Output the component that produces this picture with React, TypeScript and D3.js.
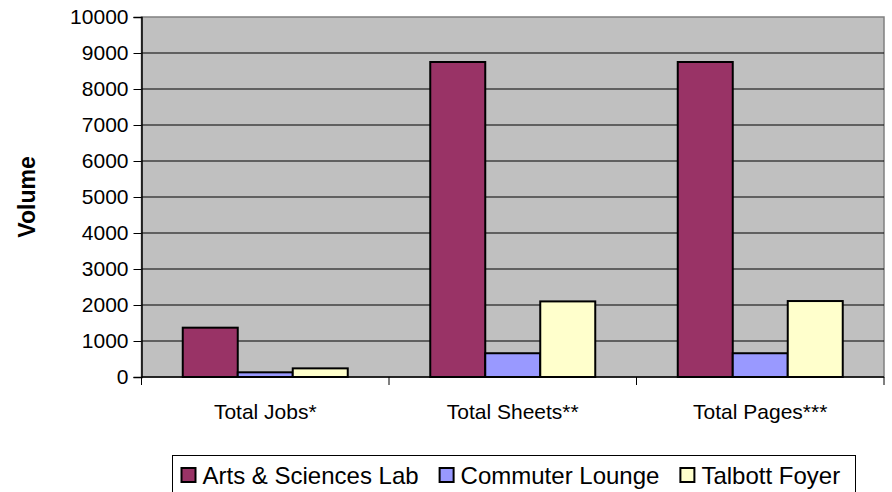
import React, { useEffect, useRef } from 'react';
import * as d3 from 'd3';

const categories = ['Total Jobs*', 'Total Sheets**', 'Total Pages***'];
const seriesNames = ['Arts & Sciences Lab', 'Commuter Lounge', 'Talbott Foyer'];
const artsValues = [1370, 8750, 8750];
const commuterValues = [130, 660, 660];
const talbottValues = [240, 2100, 2110];
const yTicks = [0, 1000, 2000, 3000, 4000, 5000, 6000, 7000, 8000, 9000, 10000];
const seriesColors = ['#993366', '#9999FF', '#FFFFCC'];

export default function App() {
  const svgRef = useRef<SVGSVGElement | null>(null);

  useEffect(() => {
    if (!svgRef.current) return;
    const svg = d3.select(svgRef.current);
    svg.selectAll('*').remove();

    const width = 892;
    const height = 492;
    const margin = { top: 17, right: 8, bottom: 115, left: 141.5 };
    const font = '"Liberation Sans", Arial, sans-serif';

    const values = [artsValues, commuterValues, talbottValues];
    const rows = categories.map((c, i) => ({
      category: c,
      bars: seriesNames.map((s, j) => ({ series: s, value: values[j][i] })),
    }));

    const x0 = d3.scaleBand<string>()
      .domain(categories)
      .range([margin.left, width - margin.right])
      .paddingInner(0)
      .paddingOuter(0);

    const x1 = d3.scaleBand<string>()
      .domain(seriesNames)
      .range([0, x0.bandwidth()])
      .paddingInner(0)
      .paddingOuter(0.75);

    const y = d3.scaleLinear()
      .domain([0, 10000])
      .range([height - margin.bottom, margin.top]);

    const color = d3.scaleOrdinal<string, string>().domain(seriesNames).range(seriesColors);

    // Plot area background
    svg.append('rect')
      .attr('x', margin.left)
      .attr('y', margin.top)
      .attr('width', width - margin.right - margin.left)
      .attr('height', y(0) - margin.top)
      .attr('fill', '#C0C0C0')
      .attr('stroke', '#808080')
      .attr('stroke-width', 1.5);

    // Gridlines
    svg.append('g')
      .selectAll('line')
      .data(yTicks.slice(1, -1))
      .join('line')
      .attr('x1', margin.left)
      .attr('x2', width - margin.right)
      .attr('y1', d => y(d))
      .attr('y2', d => y(d))
      .attr('stroke', '#000')
      .attr('stroke-width', 1);

    // Y axis
    const yAxis = svg.append('g')
      .attr('transform', `translate(${margin.left},0)`)
      .call(d3.axisLeft(y).tickValues(yTicks).tickSize(8).tickPadding(5).tickFormat(d => String(d)));
    yAxis.select('.domain').attr('stroke', '#000').attr('stroke-width', 1.5);
    yAxis.selectAll('.tick line').attr('stroke', '#000');
    yAxis.selectAll('text')
      .attr('font-family', font)
      .attr('font-size', 21)
      .attr('fill', '#000');

    // Bars
    svg.append('g')
      .selectAll('g')
      .data(rows)
      .join('g')
      .attr('transform', d => `translate(${x0(d.category)},0)`)
      .selectAll('rect')
      .data(d => d.bars)
      .join('rect')
      .attr('x', d => x1(d.series)!)
      .attr('width', x1.bandwidth())
      .attr('y', d => y(d.value))
      .attr('height', d => y(0) - y(d.value))
      .attr('fill', d => color(d.series))
      .attr('stroke', '#000')
      .attr('stroke-width', 2);

    // X axis
    const xTicks = [margin.left, ...categories.map(c => x0(c)! + x0.bandwidth())];
    svg.append('line')
      .attr('x1', margin.left)
      .attr('x2', width - margin.right)
      .attr('y1', y(0))
      .attr('y2', y(0))
      .attr('stroke', '#000')
      .attr('stroke-width', 1.5);
    svg.append('g')
      .selectAll('line')
      .data(xTicks)
      .join('line')
      .attr('x1', d => d)
      .attr('x2', d => d)
      .attr('y1', y(0))
      .attr('y2', y(0) + 8)
      .attr('stroke', '#000');
    svg.append('g')
      .selectAll('text')
      .data(categories)
      .join('text')
      .attr('x', d => x0(d)! + x0.bandwidth() / 2)
      .attr('y', y(0) + 42)
      .attr('text-anchor', 'middle')
      .attr('font-family', font)
      .attr('font-size', 21)
      .text(d => d);

    // Y title
    svg.append('text')
      .attr('transform', `translate(35,197) rotate(-90)`)
      .attr('text-anchor', 'middle')
      .attr('font-family', font)
      .attr('font-size', 23)
      .attr('font-weight', 'bold')
      .text('Volume');

    // Legend
    const legendX = 172.5;
    const legendY = 455.5;
    const legendG = svg.append('g');
    legendG.append('rect')
      .attr('x', legendX)
      .attr('y', legendY)
      .attr('width', 683)
      .attr('height', 45)
      .attr('fill', '#fff')
      .attr('stroke', '#000')
      .attr('stroke-width', 1);

    let cursor = legendX + 8;
    seriesNames.forEach(name => {
      const item = legendG.append('g').attr('transform', `translate(${cursor},0)`);
      item.append('rect')
        .attr('x', 1)
        .attr('y', 468)
        .attr('width', 14)
        .attr('height', 14)
        .attr('fill', color(name))
        .attr('stroke', '#000')
        .attr('stroke-width', 2);
      const t = item.append('text')
        .attr('x', 22)
        .attr('y', 483.5)
        .attr('font-family', font)
        .attr('font-size', 24)
        .text(name);
      const w = (t.node() as SVGTextElement).getComputedTextLength();
      cursor += 22 + w + 20;
    });
  }, []);

  return (
    <svg
      ref={svgRef}
      width={892}
      height={492}
      style={{ position: 'absolute', left: 0, top: 0, background: '#fff' }}
    />
  );
}
